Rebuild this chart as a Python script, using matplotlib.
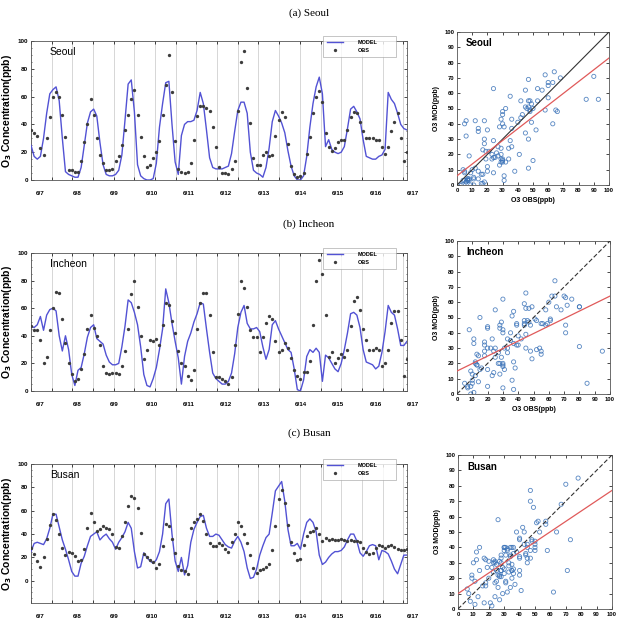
import numpy as np
import matplotlib
matplotlib.use("Agg")
import matplotlib.pyplot as plt
import matplotlib.transforms as mtransforms
from matplotlib.ticker import MultipleLocator

plt.rcParams["font.family"] = ["Liberation Sans", "DejaVu Sans"]

# -------------------------------------------------
# DATA (2-hourly, 6/7 00h .. 6/17 00h)
# -------------------------------------------------
HOURS = np.arange(0, 241, 2)
DAY_LABELS = ["6/7", "6/8", "6/9", "6/10", "6/11", "6/12",
              "6/13", "6/14", "6/15", "6/16", "6/17"]

SEOUL_MODEL = [25, 17, 15, 17, 30, 48, 62, 65, 67, 57, 30, 6,
               4, 3, 2, 2, 9, 25, 41, 49, 51, 46, 27, 11,
               4, 3, 3, 4, 7, 18, 43, 69, 72, 49, 11, 3,
               1, 0, 0, 1, 12, 38, 55, 70, 71, 40, 13, 4,
               32, 40, 42, 42, 43, 50, 63, 55, 36, 16, 9, 8,
               8, 8, 9, 10, 19, 35, 50, 56, 56, 48, 20, 7,
               5, 4, 2, 9, 23, 42, 50, 46, 41, 34, 21, 10,
               3, 0, 0, 3, 17, 38, 55, 67, 74, 62, 24, 29,
               22, 20, 19, 20, 24, 37, 51, 53, 49, 44, 29, 17,
               16, 15, 15, 17, 18, 22, 63, 58, 55, 48, 40, 37, 36]
SEOUL_OBS = [36, 34, 32, 23, 18, 30, 45, 60, 63, 60, 47, 31,
             7, 7, 6, 6, 14, 27, 40, 58, 47, 30, 18, 12,
             7, 7, 8, 14, 17, 25, 36, 47, 58, 65, 47, 31,
             17, 9, 11, 16, 20, 28, 47, 68, 90, 63, 28, 8,
             6, 5, 6, 12, 29, 46, 53, 53, 52, 50, 38, 24,
             9, 5, 5, 4, 8, 14, 50, 85, 93, 66, 41, 16,
             11, 11, 18, 20, 17, 18, 32, 43, 49, 45, 26, 10,
             4, 2, 3, 5, 19, 31, 48, 60, 64, 56, 34, 24,
             21, 23, 27, 29, 29, 36, 45, 49, 48, 42, 35, 30,
             30, 30, 29, 29, 24, 19, 24, 35, 42, 48, 30, 14, 20]

INCHEON_MODEL = [47, 46, 48, 54, 44, 55, 59, 60, 58, 40, 29, 40,
                 30, 12, 4, 15, 17, 27, 39, 46, 48, 38, 36, 34,
                 26, 21, 19, 19, 20, 32, 47, 66, 64, 57, 48, 32,
                 12, 4, 3, 9, 17, 30, 45, 74, 64, 49, 36, 24,
                 5, 25, 36, 42, 50, 56, 64, 63, 45, 28, 13, 9,
                 7, 5, 5, 7, 13, 27, 46, 57, 62, 49, 45, 45,
                 46, 43, 32, 23, 30, 48, 51, 45, 40, 35, 30, 28,
                 16, 1, 0, 8, 25, 30, 28, 31, 28, 7, 26, 24,
                 20, 16, 14, 20, 30, 42, 56, 57, 55, 46, 30, 21,
                 20, 19, 16, 18, 28, 43, 62, 57, 55, 45, 33, 33, 36]
INCHEON_OBS = [47, 44, 44, 37, 20, 25, 44, 60, 72, 71, 52, 35,
               20, 12, 7, 9, 16, 27, 45, 55, 46, 40, 33, 18,
               13, 12, 13, 13, 12, 18, 29, 45, 70, 80, 61, 40,
               23, 30, 37, 36, 38, 33, 48, 64, 62, 51, 42, 29,
               20, 18, 11, 8, 15, 45, 64, 71, 71, 55, 28, 10,
               10, 9, 7, 5, 10, 33, 56, 80, 75, 61, 44, 39,
               39, 28, 39, 49, 54, 52, 36, 28, 30, 35, 31, 24,
               15, 11, 9, 14, 14, 22, 48, 80, 95, 85, 55, 25,
               28, 20, 24, 27, 25, 30, 47, 65, 68, 59, 45, 37,
               30, 30, 31, 30, 18, 20, 30, 49, 58, 58, 37, 11, 23]

BUSAN_MODEL = [25, 32, 33, 32, 31, 36, 45, 57, 57, 46, 35, 27,
               18, 8, 4, 4, 15, 21, 30, 38, 40, 42, 35, 38,
               40, 36, 33, 27, 33, 37, 42, 50, 45, 25, 11, 12,
               24, 20, 17, 15, 18, 25, 40, 66, 70, 40, 17, 8,
               20, 5, 13, 33, 44, 50, 55, 56, 45, 38, 38, 40,
               39, 35, 31, 29, 28, 34, 38, 33, 25, 11, 2, 3,
               10, 22, 30, 37, 40, 58, 77, 81, 85, 68, 44, 30,
               30, 32, 27, 40, 50, 53, 50, 42, 22, 14, 16, 20,
               23, 25, 25, 26, 29, 35, 40, 40, 34, 24, 21, 25,
               30, 31, 30, 18, 26, 25, 23, 17, 10, 6, 14, 22, 22]
BUSAN_OBS = [28, 23, 17, 12, 20, 36, 48, 57, 52, 40, 28, 22,
             25, 24, 21, 17, 18, 27, 45, 58, 50, 43, 44, 47,
             45, 44, 40, 29, 28, 38, 50, 64, 73, 71, 62, 41,
             23, 20, 18, 16, 11, 14, 30, 49, 47, 36, 24, 13,
             9, 8, 6, 45, 50, 53, 57, 51, 40, 32, 30, 30,
             32, 31, 27, 25, 33, 40, 50, 47, 40, 32, 22, 11,
             7, 9, 10, 12, 14, 26, 47, 70, 78, 67, 48, 33,
             24, 18, 19, 31, 38, 42, 43, 45, 40, 34, 37, 35,
             36, 35, 35, 36, 35, 34, 35, 34, 34, 33, 28, 25,
             23, 24, 28, 31, 30, 28, 30, 31, 29, 27, 26, 26, 27]

# regression lines: (intercept, slope)
SEOUL_FIT = (6.0, 0.77)
INCHEON_FIT = (15.0, 0.49)
BUSAN_FIT = (10.0, 0.67)

# -------------------------------------------------
# STYLE / LAYOUT
# -------------------------------------------------
W, H = 618, 623
MODEL_COLOR = "#5252d4"
OBS_COLOR = "#3c3c3c"
SCATTER_COLOR = "#3a72b8"
GRID_STEP = 13.2      # hours between vertical grid lines
LABEL_START = 5.7     # hour position of the first date label
LABEL_STEP = 23.8


def px_rect(left, top, right, bottom):
    return [left / W, 1 - bottom / H, (right - left) / W, (bottom - top) / H]


def draw_series(ax, name, model, obs, ylim):
    for g in np.arange(0, 240, GRID_STEP):
        ax.axvline(g, color="#d0d0d0", lw=0.6, zorder=0)
    ax.plot(HOURS, model, color=MODEL_COLOR, lw=1.0, label="MODEL", zorder=3)
    ax.plot(HOURS, obs, ls="none", marker="o", ms=2.4, color=OBS_COLOR,
            mec="none", label="OBS", zorder=4)
    ax.set_xlim(0, 240)
    ax.set_ylim(*ylim)
    ax.set_xticks(np.arange(0, 240, GRID_STEP))
    ax.set_xticklabels([])
    ax.set_yticks(range(0, 101, 20))
    ax.yaxis.set_minor_locator(MultipleLocator(5))
    ax.tick_params(direction="in", length=2, width=0.5, labelsize=4.5,
                   top=True, right=True, pad=2)
    ax.tick_params(which="minor", direction="in", length=1, width=0.4,
                   right=True)
    for lab in ax.get_yticklabels():
        lab.set_fontweight("bold")
    for s in ax.spines.values():
        s.set_linewidth(0.6)
        s.set_color("#555555")

    trans = mtransforms.blended_transform_factory(ax.transData, ax.transAxes)
    for k, lab in enumerate(DAY_LABELS):
        ax.text(LABEL_START + LABEL_STEP * k, -0.095, lab, transform=trans,
                ha="center", va="center", fontsize=4.5, fontweight="bold",
                clip_on=False)

    ax.set_ylabel(r"O$_\mathbf{3}$ Concentration(ppb)", fontsize=7.5,
                  fontweight="bold", labelpad=2.5)
    ax.text(0.05, 0.92, name, transform=ax.transAxes, fontsize=7.5,
            va="center")
    leg = ax.legend(loc="upper left", bbox_to_anchor=(0.769, 0.955, 0.21, 0.1),
                    mode="expand", handlelength=3.0,
                    handletextpad=2.5, borderpad=0.7, labelspacing=0.5,
                    frameon=True, fancybox=False, prop={"weight": "bold", "size": 4})
    leg.get_frame().set_edgecolor("#999999")
    leg.get_frame().set_linewidth(0.5)


def draw_scatter(ax, name, obs, model, fit, dashed, xlabel=True):
    ax.scatter(obs, model, s=9, facecolors="none", edgecolors=SCATTER_COLOR,
               linewidths=0.6, alpha=0.85, zorder=2)
    ax.plot([0, 100], [0, 100], color="#333333", lw=0.8,
            ls=(0, (4, 2)) if dashed else "-", zorder=3)
    a, b = fit
    ax.plot([0, 100], [a, a + 100 * b], color="#e05a5a", lw=0.9, zorder=4)
    ax.set_xlim(0, 100)
    ax.set_ylim(0, 100)
    ax.set_xticks(range(0, 101, 10))
    ax.set_yticks(range(0, 101, 10))
    ax.tick_params(direction="in", length=2, width=0.5, labelsize=4.2,
                   top=True, right=True, pad=2)
    for lab in ax.get_xticklabels() + ax.get_yticklabels():
        lab.set_fontweight("bold")
    for s in ax.spines.values():
        s.set_linewidth(0.6)
        s.set_color("#555555")
    ax.text(0.06, 0.925, name, transform=ax.transAxes, fontsize=7,
            fontweight="bold", va="center")
    ax.set_ylabel("O3 MOD(ppb)", fontsize=5, fontweight="bold", labelpad=3)
    if xlabel:
        ax.set_xlabel("O3 OBS(ppb)", fontsize=5, fontweight="bold", labelpad=3)


# -------------------------------------------------
# FIGURE
# -------------------------------------------------
fig = plt.figure(figsize=(W / 100, H / 100), dpi=100)

panels = [
    ("Seoul", "(a) Seoul", 13, SEOUL_MODEL, SEOUL_OBS, SEOUL_FIT, (0, 100),
     px_rect(31, 41, 407, 180), px_rect(457, 32, 609, 185), False, True),
    ("Incheon", "(b) Incheon", 224, INCHEON_MODEL, INCHEON_OBS, INCHEON_FIT, (0, 100),
     px_rect(31, 253, 407, 391), px_rect(457, 241, 610, 394), True, True),
    ("Busan", "(c) Busan", 433, BUSAN_MODEL, BUSAN_OBS, BUSAN_FIT, (-19, 100),
     px_rect(31, 464, 407, 603), px_rect(458, 455, 612, 609), True, False),
]

for name, title, ty, model, obs, fit, ylim, ts_rect, sc_rect, dashed, xl in panels:
    fig.text(0.5, 1 - ty / H, title, ha="center", va="center", fontsize=8,
             family=["Liberation Serif", "DejaVu Serif"])
    ax = fig.add_axes(ts_rect)
    draw_series(ax, name, model, obs, ylim)
    sx = fig.add_axes(sc_rect)
    draw_scatter(sx, name, obs, model, fit, dashed, xlabel=xl)

fig.savefig("out.png", dpi=100)
